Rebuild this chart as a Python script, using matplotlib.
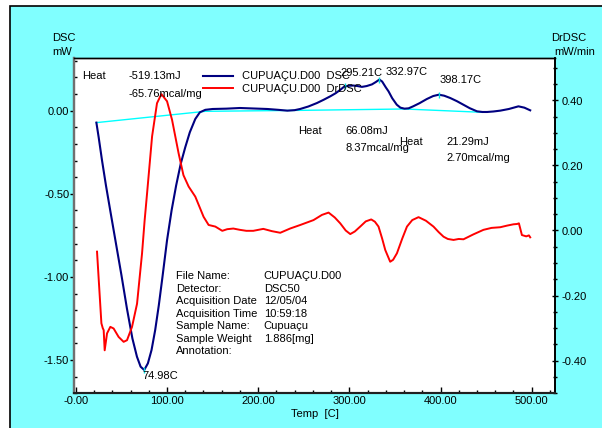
import matplotlib
matplotlib.use("Agg")
import matplotlib.pyplot as plt
from matplotlib.patches import Rectangle
from matplotlib.lines import Line2D
from matplotlib.ticker import MultipleLocator

plt.rcParams['font.family'] = ['Liberation Sans', 'DejaVu Sans']

# ---------------- data ----------------
dsc_temp = [22.5, 25, 28.7, 33, 38, 44, 50, 56, 62, 67, 71, 74.98, 79, 83, 87, 91, 95,
            100, 105, 110, 115, 120, 125, 131, 136, 142, 150, 165, 180, 195, 210, 222,
            232, 240, 246, 255, 264.5, 272, 279, 285, 290, 294, 299, 304.6, 309, 313.8,
            319, 324.8, 329, 332.97, 336, 340, 343, 347, 352, 356, 360.5, 365, 370, 377,
            385, 392, 398.17, 404, 410.7, 418, 425, 432, 440, 446, 451, 458, 465.5, 475,
            485.5, 492, 498.4]
dsc_val = [-0.072, -0.16, -0.30, -0.45, -0.61, -0.80, -0.99, -1.19, -1.37, -1.48, -1.54,
           -1.56, -1.52, -1.44, -1.32, -1.17, -1.00, -0.78, -0.60, -0.45, -0.32, -0.22,
           -0.13, -0.05, -0.01, 0.005, 0.010, 0.012, 0.016, 0.013, 0.010, 0.005, 0.0,
           0.003, 0.010, 0.025, 0.046, 0.066, 0.086, 0.105, 0.125, 0.143, 0.150, 0.151,
           0.148, 0.143, 0.148, 0.158, 0.172, 0.187, 0.175, 0.140, 0.116, 0.075, 0.036,
           0.018, 0.012, 0.014, 0.026, 0.045, 0.070, 0.088, 0.096, 0.090, 0.076, 0.057,
           0.036, 0.015, -0.004, -0.008, -0.008, -0.005, 0.0, 0.010, 0.026, 0.018, 0.002]

dr_temp = [23.2, 28.0, 29.5, 30.5, 31.6, 34.2, 37.8, 41.4, 46.9, 52.4, 56.1, 61.6, 67.1,
           72.6, 75.4, 78.1, 83.6, 89.0, 93.8, 100.0, 105.5, 112.7, 118, 123.7, 131, 136,
           140.1, 145.6, 153, 160.6, 166, 172.7, 180, 187, 194.6, 205.6, 215, 224.2, 235,
           246.2, 260.7, 270, 277.2, 284, 290, 296, 301, 306, 311.9, 318, 324, 328, 332,
           336, 339.4, 344.8, 348, 352.2, 358, 363.2, 369, 375.9, 384, 392.3, 398, 403.3,
           408, 414.3, 420, 425.2, 436, 447.1, 456, 465.5, 473, 480, 484, 486, 489.3, 494,
           497, 498.4]
dr_val = [-0.065, -0.285, -0.300, -0.306, -0.368, -0.316, -0.296, -0.301, -0.327, -0.342,
          -0.337, -0.296, -0.225, -0.070, 0.030, 0.114, 0.289, 0.391, 0.419, 0.397, 0.340,
          0.237, 0.170, 0.135, 0.104, 0.070, 0.042, 0.017, 0.012, -0.001, 0.004, 0.006,
          0.002, -0.001, -0.001, 0.005, -0.002, -0.007, 0.006, 0.017, 0.032, 0.048, 0.055,
          0.040, 0.022, 0.000, -0.011, -0.003, 0.012, 0.028, 0.034, 0.027, 0.012, -0.025,
          -0.060, -0.096, -0.090, -0.070, -0.025, 0.012, 0.032, 0.041, 0.030, 0.012,
          -0.005, -0.019, -0.026, -0.029, -0.026, -0.027, -0.012, 0.002, 0.008, 0.010,
          0.015, 0.019, 0.020, 0.022, -0.014, -0.018, -0.015, -0.021]

base_temp = [22.5, 142, 250, 360.5, 446]
base_val = [-0.072, -0.004, 0.002, 0.010, -0.010]

peak_temp = [74.98, 295.21, 332.97, 398.17]
peak_val = [-1.56, 0.150, 0.187, 0.096]

x_ticks = [0, 100, 200, 300, 400, 500]
x_ticklabels = ["-0.00", "100.00", "200.00", "300.00", "400.00", "500.00"]
yl_ticks = [0.0, -0.5, -1.0, -1.5]
yl_ticklabels = ["0.00", "-0.50", "-1.00", "-1.50"]
yr_ticks = [0.4, 0.2, 0.0, -0.2, -0.4]
yr_ticklabels = ["0.40", "0.20", "0.00", "-0.20", "-0.40"]

info_keys = ["File Name:", "Detector:", "Acquisition Date", "Acquisition Time",
             "Sample Name:", "Sample Weight", "Annotation:"]
info_vals = ["CUPUAÇU.D00", "DSC50", "12/05/04", "10:59:18", "Cupuaçu", "1.886[mg]", ""]

# ---------------- figure ----------------
W, H = 602, 428
fig = plt.figure(figsize=(6.024, 4.284), dpi=100, facecolor='white')


def px(x, y):
    return x / W, 1 - y / H


bg = Rectangle((10 / W, -0.2), 1.5, 1 - 6 / H + 0.2, transform=fig.transFigure,
               facecolor='#80FFFF', edgecolor='black', linewidth=1.2, zorder=-10)
fig.patches.append(bg)

L, R, T, B = 74, 555, 58.3, 393.3
ax1 = fig.add_axes([L / W, 1 - B / H, (R - L) / W, (B - T) / H])
ax1.set_facecolor('white')
ax2 = ax1.twinx()

NAVY = '#000080'
ax1.plot(base_temp, base_val, color='#00FFFF', lw=1.0, zorder=2)
ax1.plot(dsc_temp, dsc_val, color=NAVY, lw=1.5, zorder=3)
ax1.plot(peak_temp, peak_val, ls='none', marker='|', ms=5, mew=1.0, color='#00E0E0', zorder=4)
ax2.plot(dr_temp, dr_val, color='#FF0000', lw=1.4, zorder=3)

ax1.set_xlim(-2, 526)
ax1.set_ylim(-1.70, 0.317)
ax2.set_ylim(-0.50, 0.53)

ax1.set_xticks(x_ticks)
ax1.set_xticklabels(x_ticklabels)
ax1.xaxis.set_minor_locator(MultipleLocator(20))
ax1.set_yticks(yl_ticks)
ax1.set_yticklabels(yl_ticklabels)
ax1.yaxis.set_minor_locator(MultipleLocator(0.1))
ax2.set_yticks(yr_ticks)
ax2.set_yticklabels(yr_ticklabels)
ax2.yaxis.set_minor_locator(MultipleLocator(0.05))

ax1.tick_params(axis='x', which='major', direction='in', length=4, width=1, labelsize=8, pad=2)
ax1.tick_params(axis='x', which='minor', direction='in', length=2.5, width=1)
ax1.tick_params(axis='y', which='major', direction='out', length=3, width=1, labelsize=8, pad=0.5)
ax1.tick_params(axis='y', which='minor', direction='in', length=2.5, width=1)
ax2.tick_params(axis='y', which='major', direction='inout', length=5, width=1, labelsize=8, pad=2)
ax2.tick_params(axis='y', which='minor', direction='inout', length=3, width=1)

for ax in (ax1, ax2):
    ax.spines['left'].set_color('#707070')
    ax.spines['left'].set_linewidth(1.6)
    ax.spines['bottom'].set_color('#202020')
    ax.spines['bottom'].set_linewidth(1.5)
    ax.spines['right'].set_color('black')
    ax.spines['right'].set_linewidth(1.2)
    ax.spines['top'].set_color('black')
    ax.spines['top'].set_linewidth(1.0)

ax1.set_xlabel("Temp  [C]", fontsize=8, labelpad=2)

FS = 8


def ftext(x, y, s, ha='left', **kw):
    fig.text(*px(x, y), s, ha=ha, va='center', fontsize=FS, **kw)


# axis unit titles
ftext(64, 38, "DSC", ha='center')
ftext(62, 51.5, "mW", ha='center')
ftext(568, 38, "DrDSC", ha='center')
ftext(574, 51.5, "mW/min", ha='center')

# first peak annotation
ftext(82, 76, "Heat")
ftext(128, 76, "-519.13mJ")
ftext(128, 93.5, "-65.76mcal/mg")

# legend
fig.add_artist(Line2D([203 / W, 233 / W], [1 - 76 / H, 1 - 76 / H], color=NAVY, lw=1.5))
fig.add_artist(Line2D([203 / W, 233 / W], [1 - 88.5 / H, 1 - 88.5 / H], color='#FF0000', lw=1.4))
ftext(241.5, 76, "CUPUAÇU.D00  DSC")
ftext(241.5, 88.5, "CUPUAÇU.D00  DrDSC")

# peak temperatures
ftext(340, 73, "295.21C")
ftext(385, 72, "332.97C")
ftext(439, 79.5, "398.17C")
ftext(142, 376, "74.98C")

# later peaks
ftext(298, 131, "Heat")
ftext(345, 131, "66.08mJ")
ftext(345, 147.5, "8.37mcal/mg")
ftext(399, 141.5, "Heat")
ftext(446, 141.5, "21.29mJ")
ftext(446, 157.5, "2.70mcal/mg")

# info block
for i, (k, v) in enumerate(zip(info_keys, info_vals)):
    y = 275.7 + i * 12.55
    ftext(176, y, k)
    ftext(263.5, y, v)

fig.savefig("out.png", dpi=100, facecolor='white')
